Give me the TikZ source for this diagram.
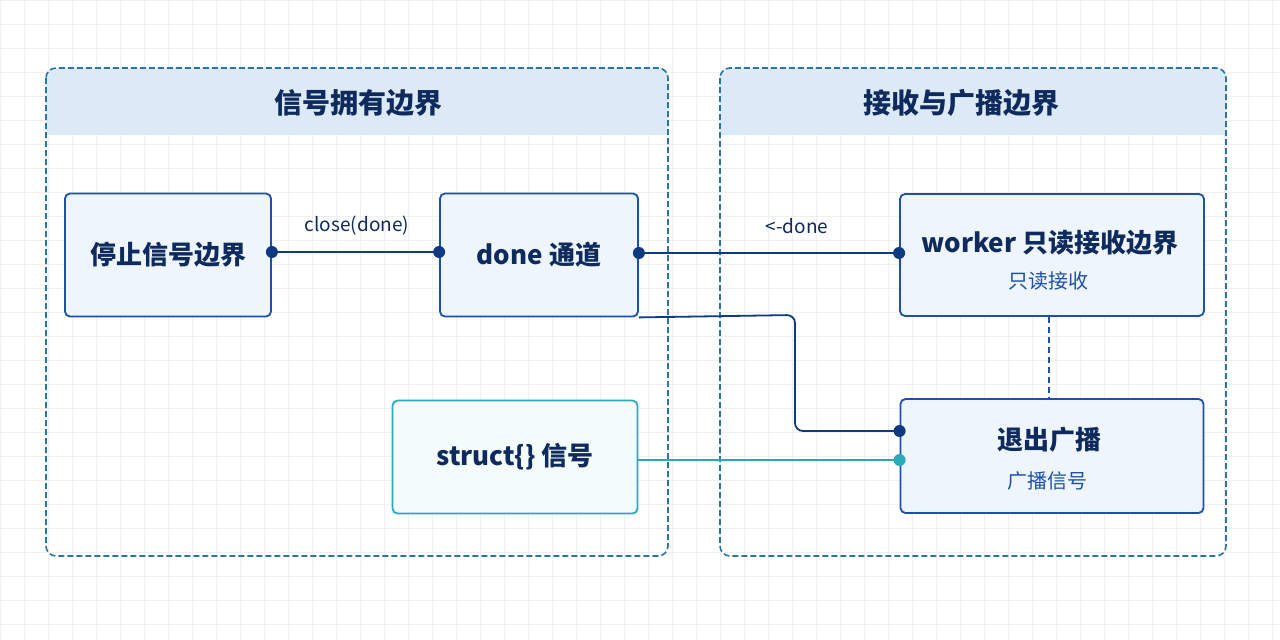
\documentclass[tikz,border=0pt]{standalone}
\usepackage{fontspec}
\setmainfont{Noto Sans CJK SC}
\usetikzlibrary{positioning}
\definecolor{navy}{HTML}{0F2A5C}
\definecolor{edgeblue}{HTML}{1E50A8}
\definecolor{linkblue}{HTML}{0D3A80}
\definecolor{teal}{HTML}{2AAAB8}
\definecolor{boxfill}{HTML}{EEF5FC}
\definecolor{headfill}{HTML}{DCEAF7}
\definecolor{framecol}{HTML}{2A75A8}
\tikzset{
  box/.style={draw=edgeblue, line width=1.8pt, rounded corners=5pt, fill=boxfill,
    align=center, text=navy, font=\fontsize{26}{30}\selectfont\bfseries},
  tbox/.style={box, draw=teal, fill=teal!5},
  sub/.style={font=\fontsize{20}{24}\selectfont, text=edgeblue},
  link/.style={draw=linkblue, line width=1.8pt},
  dot/.style={circle, fill=linkblue, inner sep=0pt, minimum size=12pt},
  lbl/.style={text=navy, font=\fontsize{19}{22}\selectfont}
}
\begin{document}
\begin{tikzpicture}[x=1pt, y=-1pt]
  \useasboundingbox (0,0) rectangle (1280,640);
  \fill[white] (0,0) rectangle (1280,640);
  \draw[black!6, line width=0.5pt, step=24pt] (0,0) grid (1280,640);

  % groups
  \fill[headfill, rounded corners=8pt] (46,68) rectangle (668,135);
  \fill[headfill] (47,110) rectangle (667,135);
  \draw[framecol, line width=1.6pt, dash pattern=on 6pt off 3pt, rounded corners=10pt] (46,68) rectangle (668,556);
  \node[text=navy, font=\fontsize{28}{32}\selectfont\bfseries] (ownhead) at (358,103) {信号拥有边界};

  \fill[headfill, rounded corners=8pt] (720,68) rectangle (1226,135);
  \fill[headfill] (721,110) rectangle (1225,135);
  \draw[framecol, line width=1.6pt, dash pattern=on 6pt off 3pt, rounded corners=10pt] (720,68) rectangle (1226,556);
  \node[text=navy, font=\fontsize{28}{32}\selectfont\bfseries] (recvhead) at (961,103) {接收与广播边界};

  % boxes
  \node[box, minimum width=206pt, minimum height=123pt] (stop) at (168,255) {停止信号边界};
  \node[box, minimum width=198pt, minimum height=123pt] (done) at (539,255) {done 通道};
  \node[box, minimum width=304pt, minimum height=122pt] (worker) at (1052,255) {};
  \node[box, draw=none, fill=none] (wtitle) at (1050,243) {worker 只读接收边界};
  \node[sub] (wsub) at (1048,281) {只读接收};
  \node[box, minimum width=303pt, minimum height=114pt] (exit) at (1052,456) {};
  \node[box, draw=none, fill=none] (etitle) at (1049,440) {退出广播};
  \node[sub] (esub) at (1047,481) {广播信号};
  \node[tbox, minimum width=245pt, minimum height=113pt] (sig) at (515,457) {struct\{\} 信号};

  % links
  \coordinate (a1) at (stop.east |- 0,252);
  \coordinate (a2) at (done.west |- 0,252);
  \draw[link] (a1) -- (a2);
  \node[dot] at (a1) {}; \node[dot] at (a2) {};
  \node[lbl] (closelbl) at (357,226) {close(done)};

  \coordinate (b1) at (done.east |- 0,253);
  \coordinate (b2) at (worker.west |- 0,253);
  \draw[link] (b1) -- (b2);
  \node[dot] at (b1) {}; \node[dot] at (b2) {};
  \node[lbl] (recvlbl) at (797,226) {<-done};

  \coordinate (c1) at (done.south east);
  \coordinate (c2) at (exit.west |- 0,431);
  \draw[link, rounded corners=8pt] (c1) -- (795,315) -- (795,431) -- (c2);
  \node[dot] at (c2) {};

  \coordinate (d1) at (sig.east |- 0,460);
  \coordinate (d2) at (exit.west |- 0,460);
  \draw[teal, line width=1.8pt] (d1) -- (d2);
  \node[dot, fill=teal] at (d2) {};

  \draw[edgeblue, line width=1.8pt, dash pattern=on 6pt off 4pt] (worker.south -| 1049,0) -- (exit.north -| 1049,0);
\end{tikzpicture}
\end{document}
